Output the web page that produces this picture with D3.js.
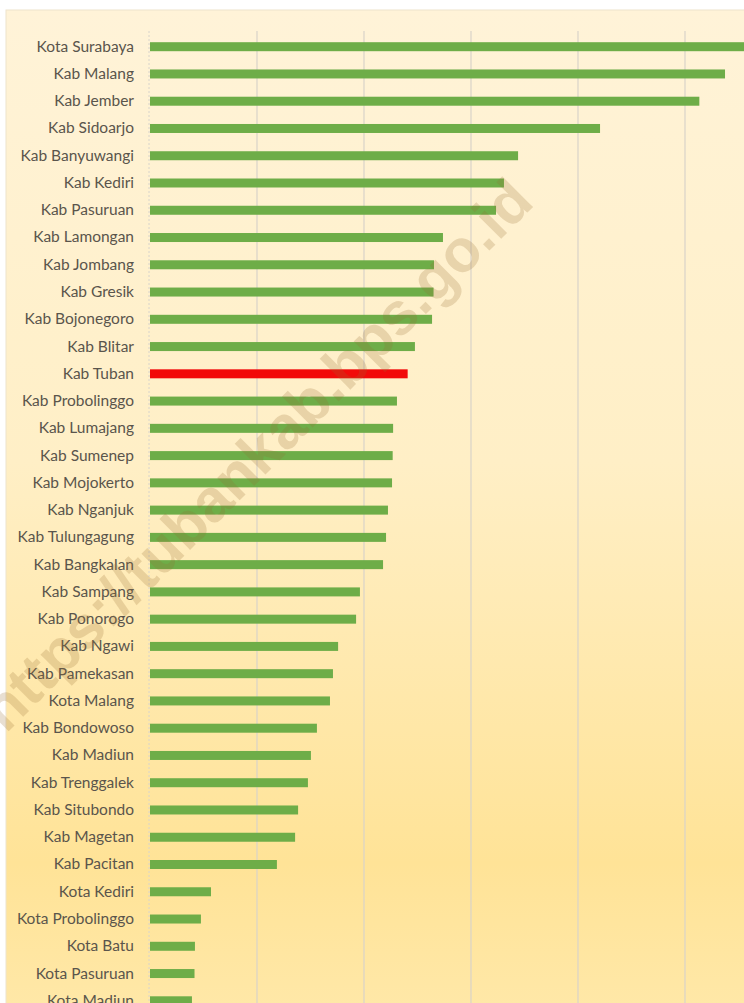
<!DOCTYPE html>
<html>
<head>
<meta charset="utf-8">
<script src="https://cdn.jsdelivr.net/npm/d3@7"></script>
<style>
  html, body { margin: 0; padding: 0; background: #fff; overflow: hidden; }
</style>
</head>
<body>
<div id="chart"></div>
<script>
// population per kabupaten / kota (jiwa)
var names = [
  "Kota Surabaya", "Kab Malang", "Kab Jember", "Kab Sidoarjo", "Kab Banyuwangi",
  "Kab Kediri", "Kab Pasuruan", "Kab Lamongan", "Kab Jombang", "Kab Gresik",
  "Kab Bojonegoro", "Kab Blitar", "Kab Tuban", "Kab Probolinggo", "Kab Lumajang",
  "Kab Sumenep", "Kab Mojokerto", "Kab Nganjuk", "Kab Tulungagung", "Kab Bangkalan",
  "Kab Sampang", "Kab Ponorogo", "Kab Ngawi", "Kab Pamekasan", "Kota Malang",
  "Kab Bondowoso", "Kab Madiun", "Kab Trenggalek", "Kab Situbondo", "Kab Magetan",
  "Kab Pacitan", "Kota Kediri", "Kota Probolinggo", "Kota Batu", "Kota Pasuruan",
  "Kota Madiun"
];
var values = [
  2874000, 2687000, 2567000, 2103000, 1720000,
  1654000, 1617000, 1369000, 1327000, 1325000,
  1318000, 1238000, 1204000, 1154000, 1136000,
  1134000, 1131000, 1112000, 1103000, 1089000,
  981000, 963000, 879000, 855000, 841000,
  780000, 752000, 738000, 692000, 678000,
  593000, 285000, 238000, 210000, 208000,
  196000
];
var ticks = [0, 500000, 1000000, 1500000, 2000000, 2500000, 3000000];
var highlight = "Kab Tuban";
var watermark = "https://tubankab.bps.go.id";

var W = 744, H = 1003;
var svg = d3.select("#chart").append("svg")
  .attr("width", W)
  .attr("height", H);

var defs = svg.append("defs");
var grad = defs.append("linearGradient")
  .attr("id", "bg")
  .attr("x1", 0).attr("y1", 0).attr("x2", 0).attr("y2", 1);
grad.append("stop").attr("offset", "0%").attr("stop-color", "#fff3d8");
grad.append("stop").attr("offset", "45%").attr("stop-color", "#ffefc6");
grad.append("stop").attr("offset", "85%").attr("stop-color", "#ffe397");
grad.append("stop").attr("offset", "100%").attr("stop-color", "#ffe8a8");

// chart area background
svg.append("rect")
  .attr("x", 6).attr("y", 10)
  .attr("width", W).attr("height", H)
  .attr("fill", "url(#bg)")
  .attr("stroke", "#eee4cc")
  .attr("stroke-width", 1);

var x = d3.scaleLinear()
  .domain([0, 500000])
  .range([150, 257]);

var step = 27.26;
var y = d3.scaleBand()
  .domain(names)
  .range([46.7 - step / 2, 46.7 - step / 2 + step * names.length])
  .paddingInner(0.67)
  .paddingOuter(0.335);

// vertical gridlines
svg.append("g")
  .selectAll("line")
  .data(ticks.slice(1))
  .enter()
  .append("line")
  .attr("x1", function(d) { return x(d); })
  .attr("x2", function(d) { return x(d); })
  .attr("y1", 31)
  .attr("y2", H)
  .attr("stroke", "#d9d3c9")
  .attr("stroke-width", 1.2);

// category axis line
svg.append("line")
  .attr("x1", x(0) - 1).attr("x2", x(0) - 1)
  .attr("y1", 31).attr("y2", H)
  .attr("stroke", "#d8d4cc")
  .attr("stroke-dasharray", "2,2");

// bars
svg.append("g")
  .selectAll("rect")
  .data(names)
  .enter()
  .append("rect")
  .attr("x", x(0))
  .attr("y", function(d) { return y(d); })
  .attr("width", function(d, i) { return x(values[i]) - x(0); })
  .attr("height", y.bandwidth())
  .attr("fill", function(d) { return d == highlight ? "#f20a0a" : "#6ead48"; });

// labels
var yAxis = d3.axisLeft(y).tickSize(0).tickPadding(0);
var gy = svg.append("g")
  .attr("transform", "translate(134,0)")
  .call(yAxis);
gy.select(".domain").remove();
gy.selectAll("text")
  .attr("fill", "#5a554c")
  .style("font-family", "Lato, 'Open Sans', sans-serif")
  .style("font-size", "15.5px");

// watermark
svg.append("text")
  .attr("transform", "translate(536,204) rotate(-45)")
  .attr("text-anchor", "end")
  .attr("fill", "rgb(150,110,50)")
  .attr("fill-opacity", 0.22)
  .style("font-family", "'Liberation Sans', Arial, sans-serif")
  .style("font-weight", "bold")
  .style("font-size", "60px")
  .text(watermark);
</script>
</body>
</html>
